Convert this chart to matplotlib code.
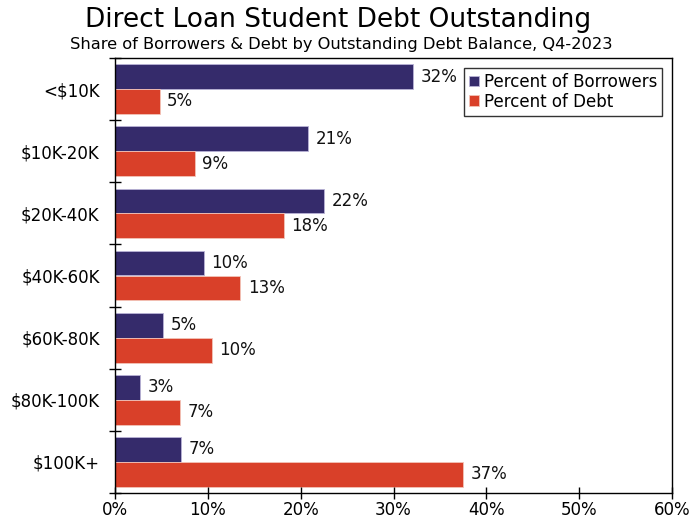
import matplotlib as mpl
mpl.use('Agg')
import matplotlib.pyplot as plt
import numpy as np
from matplotlib.ticker import FixedLocator, PercentFormatter

categories = ['<$10K', '$10K-20K', '$20K-40K', '$40K-60K', '$60K-80K', '$80K-100K', '$100K+']
borrowers = [32.1, 20.8, 22.5, 9.6, 5.2, 2.7, 7.1]
debt = [4.8, 8.6, 18.2, 13.5, 10.4, 7.0, 37.5]
borrowers_lbl = ['32%', '21%', '22%', '10%', '5%', '3%', '7%']
debt_lbl = ['5%', '9%', '18%', '13%', '10%', '7%', '37%']
c_borr = '#352B6B'
c_debt = '#D94029'

plt.rcParams['font.family'] = ['DejaVu Sans']
fig = plt.figure(figsize=(6.91, 5.2), dpi=100)
ax = fig.add_axes([115/691, 1-493/520, 557/691, 435/520])

y = np.arange(len(categories))
h = 0.4
b1 = ax.barh(y - h/2, borrowers, height=h, color=c_borr, edgecolor='#b9b3d6', linewidth=0.6, label='Percent of Borrowers')
b2 = ax.barh(y + h/2, debt, height=h, color=c_debt, edgecolor='#f3c3b8', linewidth=0.6, label='Percent of Debt')
for bars, lbls in ((b1, borrowers_lbl), (b2, debt_lbl)):
    for rect, t in zip(bars, lbls):
        ax.text(rect.get_width() + 0.8, rect.get_y() + rect.get_height()/2, t,
                va='center', ha='left', fontsize=12, color='#111111')

ax.set_xlim(0, 60)
ax.set_ylim(len(categories) - 0.5, -0.5)
ax.set_yticks(y)
ax.set_yticklabels(categories, fontsize=12)
ax.yaxis.set_minor_locator(FixedLocator(np.arange(-0.5, len(categories), 1.0)))
ax.tick_params(axis='y', which='major', length=0, pad=11)
ax.tick_params(axis='y', which='minor', length=8, direction='inout', width=1)
ax.set_xticks(np.arange(0, 61, 10))
ax.xaxis.set_major_formatter(PercentFormatter(decimals=0))
ax.tick_params(axis='x', length=8, direction='inout', width=1, labelsize=12, pad=2)
for s in ax.spines.values():
    s.set_linewidth(1)

leg = ax.legend(loc='upper right', fontsize=12, frameon=True, fancybox=False, edgecolor='black',
                handlelength=0.6, handleheight=0.6, handletextpad=0.25, borderpad=0.3,
                labelspacing=0.1, borderaxespad=0.6)
leg.get_frame().set_linewidth(1)

fig.text(338/691, 1-20/520, 'Direct Loan Student Debt Outstanding', ha='center', va='center', fontsize=19)
fig.text(341/691, 1-45/520, 'Share of Borrowers & Debt by Outstanding Debt Balance, Q4-2023', ha='center', va='center', fontsize=11.7)

plt.savefig('out.png', dpi=100)
plt.close()
